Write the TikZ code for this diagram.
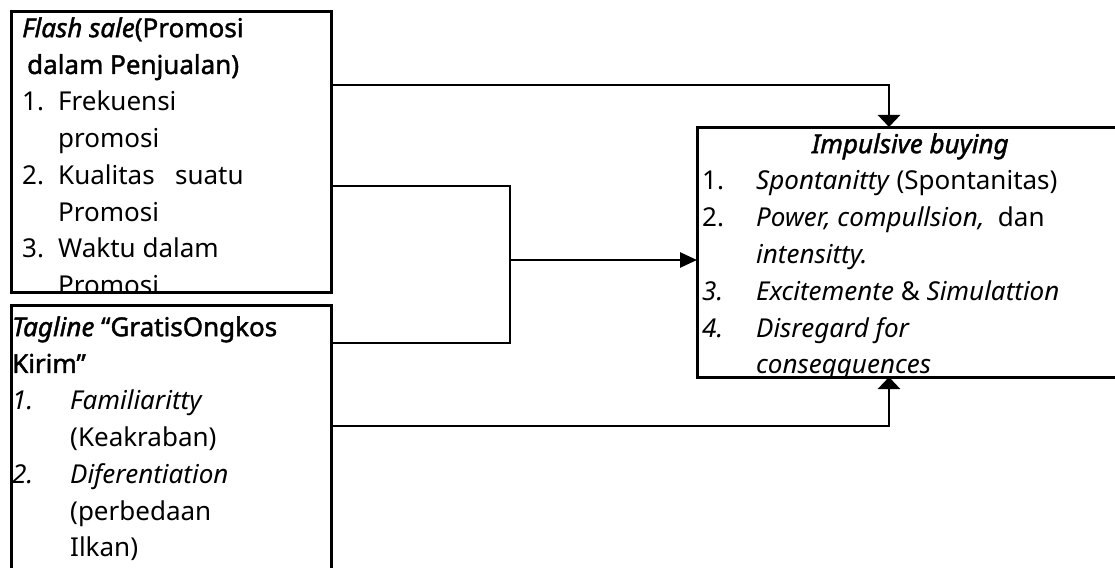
\documentclass[tikz,border=0pt]{standalone}
\usepackage{fontspec}
\setmainfont{Noto Sans}[AutoFakeBold=1.6]
\newfontfamily\bitfont{Noto Sans}[UprightFeatures={FakeBold=1.6}, ItalicFeatures={FakeBold=1.6}]
\newcommand{\bit}[1]{{\bitfont\itshape #1}}
\usetikzlibrary{arrows.meta}
\begin{document}
\begin{tikzpicture}[x=1pt,y=-1pt,
  box/.style={draw, line width=3pt, outer sep=0pt, inner sep=0pt, rectangle},
  conn/.style={line width=2.7pt},
  vtip/.style={-{Triangle[width=22pt,length=12pt]}},
  htip/.style={-{Triangle[width=15pt,length=17pt]}},
  txt/.style={anchor=north west, inner sep=0pt, font=\fontsize{26}{36.8}\selectfont}]
\useasboundingbox (0,0) rectangle (1115,567);
\clip (0,0) rectangle (1115,567);
% boxes
\node[box, minimum width=320pt, minimum height=280pt] (fs) at (171,152) {};
\node[box, minimum width=320pt, minimum height=295pt] (tg) at (171,452.5) {};
\node[box, minimum width=443pt, minimum height=250pt] (ib) at (918.5,252) {};
% texts
\begin{scope}
\clip (fs.south west) rectangle (fs.north east);
\node[txt] (fstext) at (22,11.2) {\begin{tabular}{@{}p{36pt}@{}l@{}}
\multicolumn{2}{@{}l@{}}{\bit{Flash sale}\bfseries(Promosi}\\
\multicolumn{2}{@{}l@{}}{\bfseries\hspace{5pt}dalam Penjualan)}\\
1. & Frekuensi\\
 & promosi\\
2. & Kualitas\ \ \ suatu\\
 & Promosi\\
3. & Waktu dalam\\
 & Promosi
\end{tabular}};
\end{scope}
\begin{scope}
\clip (tg.south west) rectangle (tg.north east);
\node[txt] (tgtext) at (12,310.2) {\begin{tabular}{@{}p{58pt}@{}l@{}}
\multicolumn{2}{@{}l@{}}{\bit{Tagline}\bfseries\ “GratisOngkos}\\
\multicolumn{2}{@{}l@{}}{\bfseries Kirim”}\\
\textit{1.} & \textit{Familiaritty}\\
 & (Keakraban)\\
\textit{2.} & \textit{Diferentiation}\\
 & (perbedaan\\
 & Ilkan)
\end{tabular}};
\end{scope}
\begin{scope}
\clip (ib.south west) rectangle (ib.north east);
\node[txt] (ibtext) at (702,127.2) {\begin{tabular}{@{}p{54pt}@{}l@{}}
\multicolumn{2}{@{}l@{}}{\makebox[416pt][c]{\bit{Impulsive buying}}}\\
1. & \textit{Spontanitty} (Spontanitas)\\
2. & \textit{Power, compullsion,}\ \ dan\\
 & \textit{intensitty.}\\
\textit{3.} & \textit{Excitemente} \& \textit{Simulattion}\\
\textit{4.} & \textit{Disregard for}\\
 & \textit{conseqguences}
\end{tabular}};
\end{scope}
% redraw borders over clipped text
\draw[line width=3pt] (fs.south west) rectangle (fs.north east);
\draw[line width=3pt] (tg.south west) rectangle (tg.north east);
\draw[line width=3pt] (ib.south west) rectangle (ib.north east);
% connectors
\coordinate (top) at (889,85);
\coordinate (m1) at (510,186);
\coordinate (m2) at (510,343);
\coordinate (mj) at (510,260);
\coordinate (bot) at (889,426);
\draw[conn, vtip] (fs.east |- top) -- (top) -- (ib.north -| top);
\draw[conn] (fs.east |- m1) -- (m1) -- (m2) -- (tg.east |- m2);
\draw[conn, htip] (mj) -- (ib.west |- mj);
\draw[conn, vtip] (tg.east |- bot) -- (bot) -- (ib.south -| bot);
\end{tikzpicture}
\end{document}
